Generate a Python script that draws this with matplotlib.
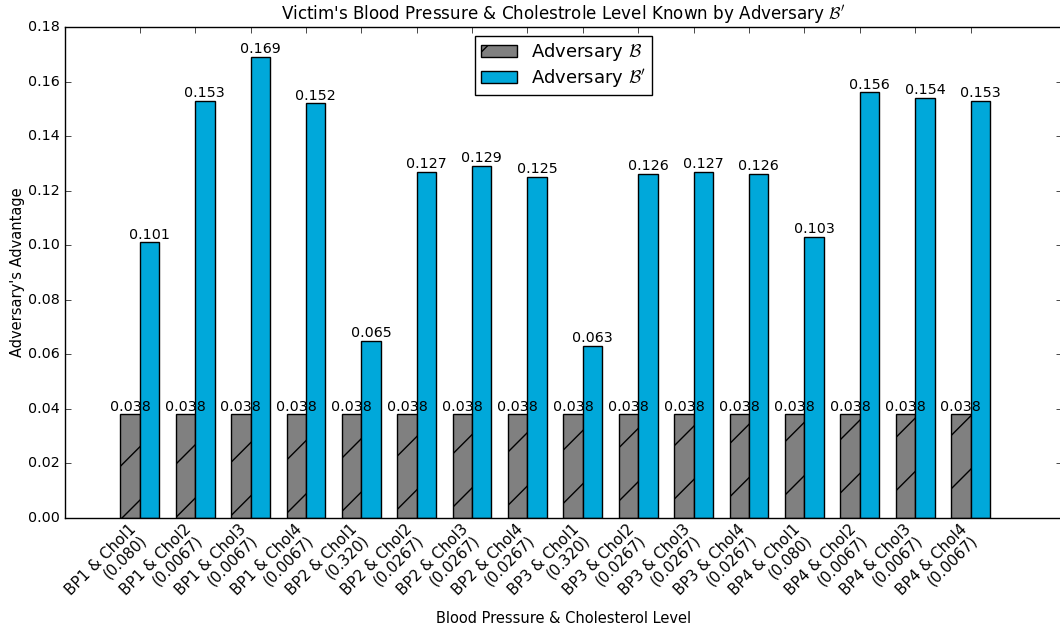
import numpy as np
import matplotlib
matplotlib.use('Agg')
import matplotlib.pyplot as plt
import matplotlib.transforms as mtransforms

# render at a higher dpi so the hatch is sparser; all sizes scaled by K
DPI = 160
K = 100. / DPI

plt.style.use('classic')
plt.rcParams.update({
    'figure.facecolor': 'white',
    'savefig.facecolor': 'white',
    'mathtext.fontset': 'cm',
    'axes.linewidth': 1.0 * K,
    'patch.linewidth': 1.0 * K,
    'lines.linewidth': 1.0 * K,
    'hatch.linewidth': 1.0 * K,
    'xtick.major.size': 4 * K, 'ytick.major.size': 4 * K,
    'xtick.minor.size': 2 * K, 'ytick.minor.size': 2 * K,
    'xtick.major.width': 0.5 * K, 'ytick.major.width': 0.5 * K,
    'xtick.major.pad': 4 * K, 'ytick.major.pad': 4 * K,
    'axes.titlepad': 6 * K,
    'axes.labelpad': 5 * K,
})

#%% data

groups = ['BP1 & Chol1\n(0.080)', 'BP1 & Chol2\n(0.0067)', 'BP1 & Chol3\n(0.0067)',
          'BP1 & Chol4\n(0.0067)', 'BP2 & Chol1\n(0.320)', 'BP2 & Chol2\n(0.0267)',
          'BP2 & Chol3\n(0.0267)', 'BP2 & Chol4\n(0.0267)', 'BP3 & Chol1\n(0.320)',
          'BP3 & Chol2\n(0.0267)', 'BP3 & Chol3\n(0.0267)', 'BP3 & Chol4\n(0.0267)',
          'BP4 & Chol1\n(0.080)', 'BP4 & Chol2\n(0.0067)', 'BP4 & Chol3\n(0.0067)',
          'BP4 & Chol4\n(0.0067)']
adv_b = [0.038] * 16
adv_b_prime = [0.101, 0.153, 0.169, 0.152, 0.065, 0.127, 0.129, 0.125,
               0.063, 0.126, 0.127, 0.126, 0.103, 0.156, 0.154, 0.153]

#%% plot

ind = np.arange(len(groups))
width = 0.35

fig = plt.figure(figsize=(1060. / DPI, 629. / DPI), dpi=DPI)
ax = fig.add_axes([0.0613, 0.1765, 0.9406, 0.7806])

rects1 = ax.bar(ind, adv_b, width, align='edge', color='gray',
                edgecolor='black', hatch='/', linewidth=1.0 * K)
rects2 = ax.bar(ind + width, adv_b_prime, width, align='edge', color='#00A8DA',
                edgecolor='black', linewidth=1.0 * K)

def autolabel(rects):
    for rect in rects:
        h = rect.get_height()
        ax.text(rect.get_x() + rect.get_width() / 2., h + 0.0003, '%.3f' % h,
                ha='center', va='bottom', fontsize=10.3 * K)

autolabel(rects1)
autolabel(rects2)

ax.set_xlim(-1, 17)
ax.set_ylim(0, 0.18)
ax.set_yticks(np.arange(0, 0.181, 0.02))
ax.set_xticks(ind + width)
ax.set_xticklabels(groups, rotation=45, ha='right', fontsize=10.8 * K,
                   linespacing=1.05)
ax.tick_params(axis='y', labelsize=10.3 * K)

# nudge the rotated labels to the right
shift = mtransforms.ScaledTranslation(10. / DPI, 2. / DPI, fig.dpi_scale_trans)
for lbl in ax.get_xticklabels():
    lbl.set_transform(lbl.get_transform() + shift)

ax.set_ylabel("Adversary's Advantage", fontsize=10.5 * K, labelpad=2 * K)
ax.set_xlabel('Blood Pressure & Cholesterol Level', fontsize=10.5 * K)
ax.xaxis.set_label_coords(0.5, -0.19)
ax.set_title(r"Victim's Blood Pressure & Cholestrole Level Known by Adversary $\mathcal{B}'$",
             fontsize=12.1 * K)

ax.legend((rects1[0], rects2[0]), (r'Adversary $\mathcal{B}$', r"Adversary $\mathcal{B}'$"),
          loc='upper center', fontsize=13 * K, labelspacing=0.2, borderpad=0.3)

fig.savefig('out.png', dpi=DPI)
